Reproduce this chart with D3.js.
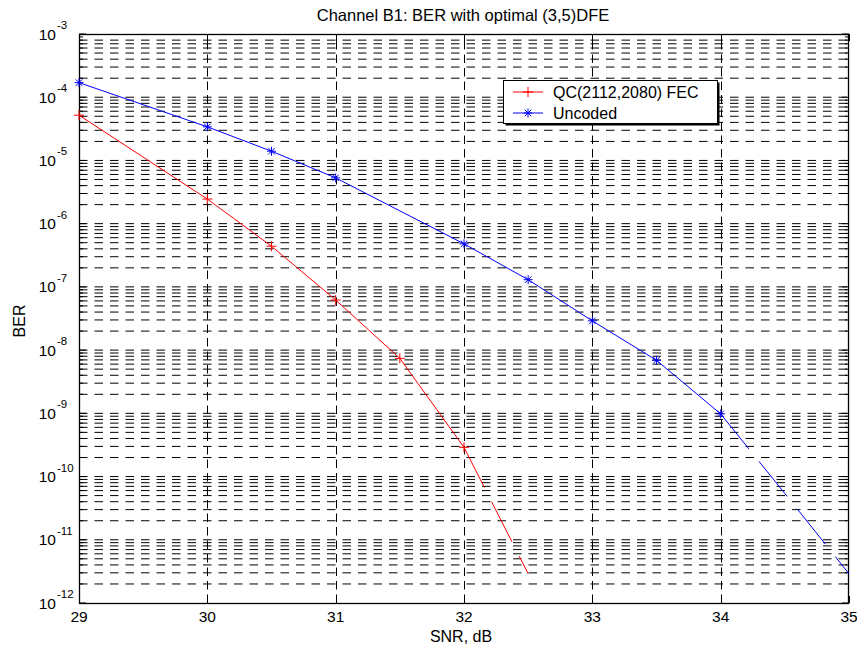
<!DOCTYPE html>
<html lang="en">
<head>
<meta charset="utf-8">
<title>Channel B1: BER with optimal (3,5)DFE</title>
<script src="https://d3js.org/d3.v7.min.js"></script>
<style>
  body { margin: 0; background: #fff; }
  text { font-family: "Liberation Sans", Arial, sans-serif; fill: #000; }
</style>
</head>
<body>
<script>
// data
var snrCoded = [29, 30, 30.5, 31, 31.5, 32];
var berCoded = [5.2e-5, 2.45e-6, 4.4e-7, 6.2e-8, 7.4e-9, 2.9e-10];
var snrCodedExt = [32, 32.5];
var berCodedExt = [2.9e-10, 2.9e-12];

var snrUncoded = [29, 30, 30.5, 31, 32, 32.5, 33, 33.5, 34];
var berUncoded = [1.7e-4, 3.4e-5, 1.4e-5, 5.3e-6, 4.8e-7, 1.3e-7, 2.9e-8, 6.9e-9, 9.8e-10];
var snrUncodedExt = [34, 34.5, 35];
var berUncodedExt = [9.8e-10, 5.4e-11, 2.9e-12];

var xTicks = [29, 30, 31, 32, 33, 34, 35];
var yExponents = [-3, -4, -5, -6, -7, -8, -9, -10, -11, -12];
var legendLabels = ["QC(2112,2080) FEC", "Uncoded"];

var w = 857, h = 647;
var pLeft = 79, pTop = 34, pRight = 849, pBottom = 603;

var svg = d3.select("body").append("svg")
  .attr("width", w)
  .attr("height", h);

var x = d3.scaleLinear().domain([29, 35]).range([pLeft, pRight]);
var y = d3.scaleLog().domain([1e-12, 1e-3]).range([pBottom, pTop]);

// grid values 1..9 x 10^k
var gridVals = [];
for (var k = -12; k < -3; k++) {
  for (var m = 1; m <= 9; m++) gridVals.push(m * Math.pow(10, k));
}
gridVals.push(1e-3);

// horizontal grid
svg.append("g").selectAll("line")
  .data(gridVals.filter(function(v) { return v > 1.5e-12 && v < 0.9e-3; }))
  .enter().append("line")
  .attr("x1", pLeft).attr("x2", pRight)
  .attr("y1", function(d) { return y(d); })
  .attr("y2", function(d) { return y(d); })
  .attr("stroke", "#000")
  .attr("stroke-width", 1)
  .attr("stroke-dasharray", "8.5,7");

// vertical grid
svg.append("g").selectAll("line")
  .data(xTicks.slice(1, -1))
  .enter().append("line")
  .attr("x1", function(d) { return Math.round(x(d)) + 0.5; })
  .attr("x2", function(d) { return Math.round(x(d)) + 0.5; })
  .attr("y1", pBottom).attr("y2", pTop)
  .attr("stroke", "#000")
  .attr("stroke-width", 1)
  .attr("stroke-dasharray", "8.5,5");

// ticks (inside)
var tk = svg.append("g").attr("stroke", "#000").attr("stroke-width", 1);
gridVals.forEach(function(v) {
  var yy = y(v);
  var len = (Math.abs(Math.log10(v) - Math.round(Math.log10(v))) < 1e-9) ? 7 : 4;
  tk.append("line").attr("x1", pLeft).attr("x2", pLeft + len).attr("y1", yy).attr("y2", yy);
  tk.append("line").attr("x1", pRight).attr("x2", pRight - len).attr("y1", yy).attr("y2", yy);
});
xTicks.forEach(function(v) {
  var xx = Math.round(x(v)) + 0.5;
  tk.append("line").attr("x1", xx).attr("x2", xx).attr("y1", pBottom).attr("y2", pBottom - 7);
  tk.append("line").attr("x1", xx).attr("x2", xx).attr("y1", pTop).attr("y2", pTop + 7);
});

// axes box
svg.append("rect")
  .attr("x", pLeft + 0.5).attr("y", pTop + 0.5)
  .attr("width", pRight - pLeft - 1).attr("height", pBottom - pTop)
  .attr("fill", "none")
  .attr("stroke", "#000")
  .attr("stroke-width", 1.3);

// x tick labels
svg.append("g").selectAll("text")
  .data(xTicks)
  .enter().append("text")
  .attr("x", function(d) { return x(d); })
  .attr("y", pBottom + 19)
  .attr("text-anchor", "middle")
  .attr("font-size", "15.5px")
  .text(function(d) { return d; });

// y tick labels 10^k
var yl = svg.append("g").selectAll("g")
  .data(yExponents)
  .enter().append("g");
yl.append("text")
  .attr("x", 56)
  .attr("y", function(d) { return y(Math.pow(10, d)) + 5.5; })
  .attr("text-anchor", "end")
  .attr("font-size", "15.5px")
  .text("10");
yl.append("text")
  .attr("x", 57)
  .attr("y", function(d) { return y(Math.pow(10, d)) - 5; })
  .attr("font-size", "11.5px")
  .text(function(d) { return "-" + Math.abs(d); });

// title and labels
svg.append("text")
  .attr("x", 463).attr("y", 21)
  .attr("text-anchor", "middle")
  .attr("font-size", "16.5px")
  .text("Channel B1: BER with optimal (3,5)DFE");

svg.append("text")
  .attr("x", 461).attr("y", 642)
  .attr("text-anchor", "middle")
  .attr("font-size", "16px")
  .text("SNR, dB");

svg.append("text")
  .attr("transform", "translate(25,321) rotate(-90)")
  .attr("text-anchor", "middle")
  .attr("font-size", "16px")
  .text("BER");

// curves
var line = d3.line()
  .x(function(d) { return x(d[0]); })
  .y(function(d) { return y(d[1]); });

function pairs(a, b) { return a.map(function(v, i) { return [v, b[i]]; }); }

var coded = pairs(snrCoded, berCoded);
var uncoded = pairs(snrUncoded, berUncoded);

svg.append("path").datum(coded).attr("d", line)
  .attr("fill", "none").attr("stroke", "#ff0000").attr("stroke-width", 1);
svg.append("path").datum(pairs(snrCodedExt, berCodedExt)).attr("d", line)
  .attr("fill", "none").attr("stroke", "#ff0000").attr("stroke-width", 1)
  .attr("stroke-dasharray", "45,16");

svg.append("path").datum(uncoded).attr("d", line)
  .attr("fill", "none").attr("stroke", "#0000ff").attr("stroke-width", 1);
svg.append("path").datum(pairs(snrUncodedExt, berUncodedExt)).attr("d", line)
  .attr("fill", "none").attr("stroke", "#0000ff").attr("stroke-width", 1)
  .attr("stroke-dasharray", "45,16");

// markers
function plus(g, cx, cy, s, col) {
  g.append("line").attr("x1", cx - s).attr("x2", cx + s).attr("y1", cy).attr("y2", cy).attr("stroke", col);
  g.append("line").attr("x1", cx).attr("x2", cx).attr("y1", cy - s).attr("y2", cy + s).attr("stroke", col);
}
function star(g, cx, cy, s, col) {
  plus(g, cx, cy, s, col);
  var d = s * 0.72;
  g.append("line").attr("x1", cx - d).attr("x2", cx + d).attr("y1", cy - d).attr("y2", cy + d).attr("stroke", col);
  g.append("line").attr("x1", cx - d).attr("x2", cx + d).attr("y1", cy + d).attr("y2", cy - d).attr("stroke", col);
}

var mk = svg.append("g").attr("stroke-width", 1);
coded.forEach(function(d) { plus(mk, x(d[0]), y(d[1]), 5, "#ff0000"); });
uncoded.forEach(function(d) { star(mk, x(d[0]), y(d[1]), 4.5, "#0000ff"); });

// legend
var lg = svg.append("g");
lg.append("rect")
  .attr("x", 505.5).attr("y", 82.5).attr("width", 214).attr("height", 43)
  .attr("fill", "#000");
lg.append("rect")
  .attr("x", 503.5).attr("y", 80.5).attr("width", 214).attr("height", 43)
  .attr("fill", "#fff").attr("stroke", "#000").attr("stroke-width", 1);
var cols = ["#ff0000", "#0000ff"];
var ly = [92, 113];
legendLabels.forEach(function(lab, i) {
  lg.append("line").attr("x1", 513).attr("x2", 543).attr("y1", ly[i]).attr("y2", ly[i])
    .attr("stroke", cols[i]).attr("stroke-width", 1);
  if (i === 0) plus(lg, 528, ly[i], 5, cols[i]);
  else star(lg, 528, ly[i], 4.5, cols[i]);
  lg.append("text").attr("x", 553).attr("y", ly[i] + 5.5)
    .attr("font-size", "16px")
    .text(lab);
});
</script>
</body>
</html>
